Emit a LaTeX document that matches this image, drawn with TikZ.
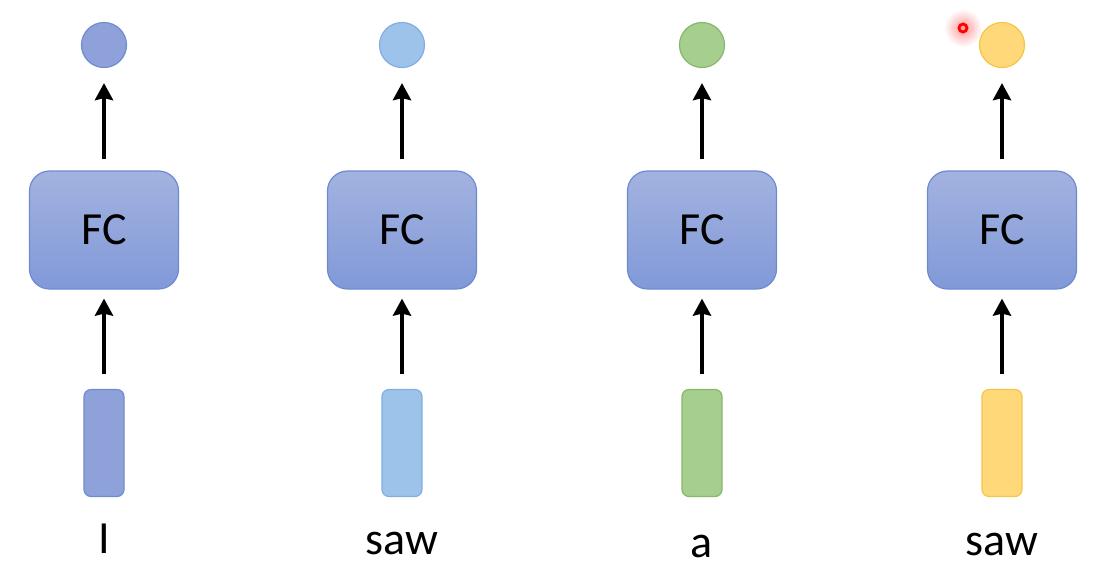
\documentclass[tikz,border=0pt]{standalone}
\usepackage{fontspec}
\setmainfont{Carlito}
\usetikzlibrary{arrows.meta}

\definecolor{fctop}{HTML}{A3B3E0}
\definecolor{fcbot}{HTML}{8199D8}
\definecolor{fcline}{HTML}{6E8BD2}
\definecolor{cIfill}{HTML}{8EA2D9}
\definecolor{cIline}{HTML}{6F8BD1}
\definecolor{cSfill}{HTML}{9EC3EA}
\definecolor{cSline}{HTML}{80AEE3}
\definecolor{cAfill}{HTML}{A6CE8E}
\definecolor{cAline}{HTML}{86B86A}
\definecolor{cYfill}{HTML}{FFD87A}
\definecolor{cYline}{HTML}{F5C548}

\begin{document}
\begin{tikzpicture}[
    x=0.5pt, y=-0.5pt,
    fc/.style={draw=fcline, line width=0.6pt, rounded corners=10pt, top color=fctop, bottom color=fcbot,
        minimum width=74.5pt, minimum height=59pt, inner sep=0pt, font=\fontsize{23}{27}\selectfont},
    vec/.style={line width=0.6pt, rounded corners=3.5pt, minimum width=20pt, minimum height=53.5pt, inner sep=0pt},
    outdot/.style={circle, line width=0.6pt, minimum size=22.5pt, inner sep=0pt},
    word/.style={anchor=base, font=\fontsize{23}{27}\selectfont},
    arr/.style={-{Stealth[length=8.5pt, width=9pt, inset=1pt]}, line width=2pt},
]
    \useasboundingbox (0,0) rectangle (1094,570);

    % 输出圆点
    \node[outdot, draw=cIline, fill=cIfill] (o1) at (104, 45) {};
    \node[outdot, draw=cSline, fill=cSfill] (o2) at (402, 45) {};
    \node[outdot, draw=cAline, fill=cAfill] (o3) at (702, 45) {};
    \node[outdot, draw=cYline, fill=cYfill] (o4) at (1002, 45) {};

    % FC 层
    \node[fc] (f1) at (104, 230) {FC};
    \node[fc] (f2) at (402, 230) {FC};
    \node[fc] (f3) at (702, 230) {FC};
    \node[fc] (f4) at (1002, 230) {FC};

    % 输入向量
    \node[vec, draw=cIline, fill=cIfill] (v1) at (104, 443) {};
    \node[vec, draw=cSline, fill=cSfill] (v2) at (402, 443) {};
    \node[vec, draw=cAline, fill=cAfill] (v3) at (702, 443) {};
    \node[vec, draw=cYline, fill=cYfill] (v4) at (1002, 443) {};

    % 单词
    \node[word] (w1) at (104, 553) {I};
    \node[word] (w2) at (402, 554) {saw};
    \node[word] (w3) at (702, 557) {a};
    \node[word] (w4) at (1002, 555) {saw};

    % 箭头
    \draw[arr, shorten <=5.5pt, shorten >=7.5pt] (f1) -- (o1);
    \draw[arr, shorten <=5.5pt, shorten >=7.5pt] (f2) -- (o2);
    \draw[arr, shorten <=5.5pt, shorten >=7.5pt] (f3) -- (o3);
    \draw[arr, shorten <=5.5pt, shorten >=7.5pt] (f4) -- (o4);
    \draw[arr, shorten <=7.5pt, shorten >=4.5pt] (v1) -- (f1);
    \draw[arr, shorten <=7.5pt, shorten >=4.5pt] (v2) -- (f2);
    \draw[arr, shorten <=7.5pt, shorten >=4.5pt] (v3) -- (f3);
    \draw[arr, shorten <=7.5pt, shorten >=4.5pt] (v4) -- (f4);

    % 激光笔红点
    \shade[inner color=red!40, outer color=white] (963, 28) circle (19);
    \draw[red, line width=1.4pt] (963, 28) circle (4);
\end{tikzpicture}
\end{document}
